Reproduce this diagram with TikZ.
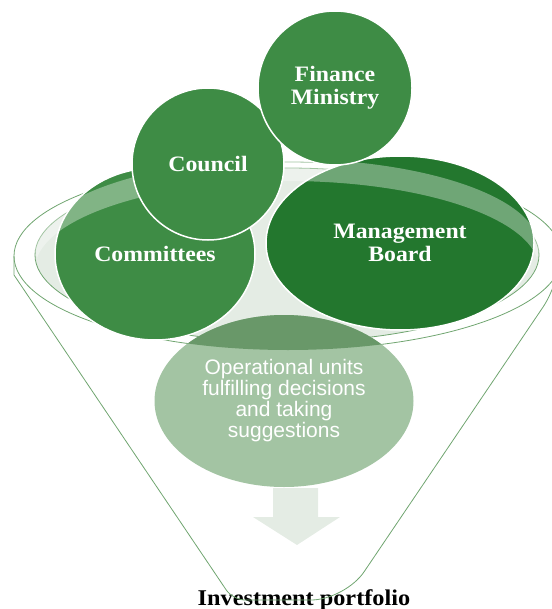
\documentclass[tikz,border=0pt]{standalone}
\usepackage{fontspec}
\setmainfont{Liberation Serif}[FakeStretch=1.08]
\newfontfamily\opfont{Liberation Sans}
\usepackage{tikz}
\usetikzlibrary{shapes.geometric}
\definecolor{fgreen}{RGB}{62,140,69}
\definecolor{fdark}{RGB}{35,119,46}
\definecolor{flight}{RGB}{163,196,163}
\definecolor{fmid}{RGB}{105,152,105}
\definecolor{frim}{RGB}{228,236,228}
\definecolor{fline}{RGB}{112,165,112}

\begin{document}
\begin{tikzpicture}[x=1pt,y=-1pt,
  bubble/.style={ellipse,inner sep=0pt,draw=white,line width=1.5pt,text=white,
    font=\fontsize{22}{23}\selectfont\bfseries,align=center},
  rim/.style={draw=fline,line width=0.8pt}]
\useasboundingbox (0,0) rectangle (551,609);
\node[anchor=base,font=\fontsize{22.5}{23}\selectfont\bfseries] (ip) at (304,605) {Investment portfolio};
% funnel outline
\draw[rim] (288,256) ellipse [x radius=274,y radius=94];
\draw[rim] (14,256) -- (14,275) [rounded corners=12pt] -- (233,600)
  [rounded corners=34pt] -- (345,600) -- (562,279) [rounded corners=12pt] -- (562,256);
\draw[rim,fill=frim] (287,255) ellipse [x radius=252,y radius=87];
% bottom unit
\node[ellipse,inner sep=0pt,fill=flight,minimum width=259,minimum height=172,
  text=white,align=center,font=\opfont\fontsize{21}{21}\selectfont] (op) at (284,401)
  {Operational units\\fulfilling decisions\\and taking\\suggestions};
\begin{scope}
  \clip (288,256) ellipse [x radius=274,y radius=94];
  \fill[fmid] (op.center) ellipse [x radius=129.5,y radius=86];
\end{scope}
\fill[frim] (273,488) -- (318,488) -- (318,517) -- (340,517) -- (297,545)
  -- (253,517) -- (273,517) -- cycle;
% bodies
\node[bubble,fill=fgreen,minimum width=200,minimum height=172] (com) at (155,254) {Committees};
\node[bubble,fill=fdark,minimum width=268,minimum height=174] (mb) at (400,243) {Management\\Board};
\begin{scope}
  \clip (0,0) rectangle (551,258);
  \fill[white,opacity=0.35,even odd rule] (287,247) ellipse [x radius=252,y radius=88]
    (287,269) ellipse [x radius=252,y radius=88];
\end{scope}
\node[bubble,circle,fill=fgreen,minimum size=152] (cou) at (208,164) {Council};
\node[bubble,circle,fill=fgreen,minimum size=154] (fin) at (335,88) {Finance\\Ministry};
\end{tikzpicture}
\end{document}
